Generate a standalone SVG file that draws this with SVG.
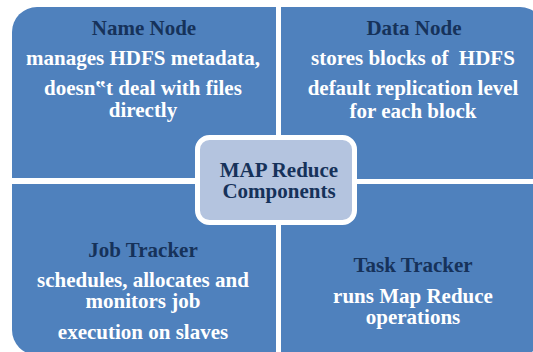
<svg xmlns="http://www.w3.org/2000/svg" width="533" height="352" viewBox="0 0 533 352">
  <style>
    .quad { fill: #4f81bd; }
    .hub { fill: #b4c4df; stroke: #ffffff; stroke-width: 5; }
    text { font-family: "Liberation Serif", "Times New Roman", serif; font-size: 21px; font-weight: bold; text-anchor: middle; }
    .title { fill: #16325a; }
    .body { fill: #ffffff; }
  </style>
  <rect width="533" height="352" fill="#ffffff"/>

  <g id="name-node">
    <path class="quad" d="M12,32 A25,25 0 0 1 37,7 H276 V178 H12 Z"/>
    <text class="title" x="144" y="35">Name Node</text>
    <text class="body" x="143" y="65">manages HDFS metadata,</text>
    <text class="body" x="143" y="95">doesn‟t deal with files</text>
    <text class="body" x="143" y="117">directly</text>
  </g>

  <g id="data-node">
    <path class="quad" d="M281,7 H520 A25,25 0 0 1 545,32 V179 H281 Z"/>
    <text class="title" x="414" y="35">Data Node</text>
    <text class="body" x="413" y="65" xml:space="preserve">stores blocks of  HDFS</text>
    <text class="body" x="413" y="95">default replication level</text>
    <text class="body" x="413" y="118">for each block</text>
  </g>

  <g id="job-tracker">
    <path class="quad" d="M12,184 H276 V355 H37 A25,25 0 0 1 12,330 Z"/>
    <text class="title" x="143" y="257">Job Tracker</text>
    <text class="body" x="143" y="287">schedules, allocates and</text>
    <text class="body" x="143" y="308">monitors job</text>
    <text class="body" x="143" y="339">execution on slaves</text>
  </g>

  <g id="task-tracker">
    <path class="quad" d="M281,184 H545 V330 A25,25 0 0 1 520,355 H281 Z"/>
    <text class="title" x="413" y="272">Task Tracker</text>
    <text class="body" x="413" y="303">runs Map Reduce</text>
    <text class="body" x="413" y="324">operations</text>
  </g>

  <g id="map-reduce-components">
    <rect class="hub" x="197.5" y="137.5" width="157" height="85" rx="12"/>
    <text class="title" x="279" y="177">MAP Reduce</text>
    <text class="title" x="279" y="198">Components</text>
  </g>

  <g id="connectors"/>
</svg>
